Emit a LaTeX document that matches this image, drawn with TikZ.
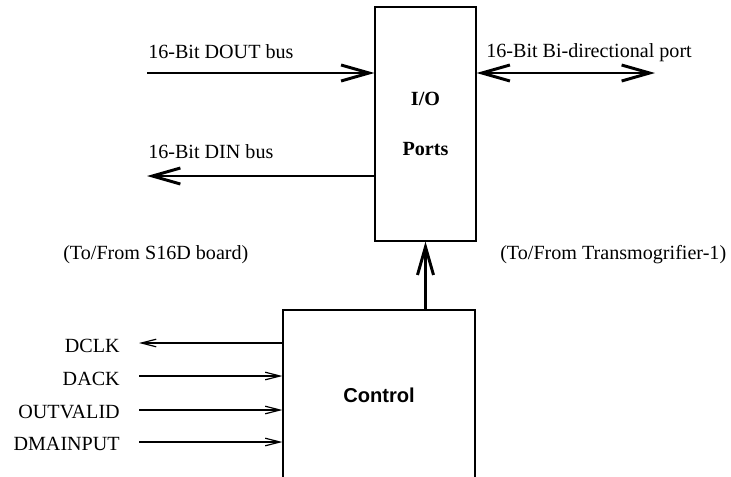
\documentclass[tikz,border=0pt]{standalone}
\usepackage{fontspec}
\setmainfont{Liberation Serif}
\newfontfamily\ctrlfont{Liberation Sans}
\usetikzlibrary{arrows.meta,positioning}

\begin{document}
\begin{tikzpicture}[
  x=0.025cm, y=-0.025cm,
  font=\fontsize{14.3}{16}\selectfont,
  block/.style={
    draw,
    line width=0.8pt,
    inner sep=0pt,
    align=center
  },
  bus/.style={
    line width=2.1pt,
    -{Straight Barb[length=0.7cm, width=0.4cm]}
  },
  bibus/.style={
    line width=2.1pt,
    {Straight Barb[length=0.7cm, width=0.4cm]}-{Straight Barb[length=0.7cm, width=0.4cm]}
  },
  sig/.style={
    line width=0.85pt,
    -{Straight Barb[length=0.37cm, width=0.19cm]}
  },
  lbl/.style={
    inner sep=0pt,
    anchor=base west
  },
  pin/.style={
    inner sep=0pt,
    anchor=base east
  }
]
\useasboundingbox (0,0) rectangle (731,476);

% Blocks
\node[block, minimum width=2.525cm, minimum height=5.85cm] (ports) at (425.5,124) {%
  \textbf{I/O}\\[19pt]
  \textbf{Ports}
};

\node[block, minimum width=4.8cm, minimum height=4.25cm, font=\fontsize{14.3}{16}\ctrlfont\bfseries] (control) at (379,395) {Control};

% Bus end points
\coordinate (dout) at (147,73);
\coordinate (din) at (147,176);
\coordinate (bidir) at (655,73);

% Buses
\draw[bus] (dout) -- (dout -| ports.west);
\draw[bus] (ports.west |- din) -- (din);
\draw[bibus] (ports.east |- bidir) -- (bidir);
\draw[bus] (control.north -| ports.south) -- (ports.south);

% Bus labels
\node[lbl] (doutlbl) at (148,58) {16-Bit DOUT bus};
\node[lbl] (dinlbl) at (148,158) {16-Bit DIN bus};
\node[lbl] (bidirlbl) at (486,57) {16-Bit Bi-directional port};
\node[lbl] (s16d) at (63,259) {(To/From S16D board)};
\node[lbl] (transmog) at (500,259) {(To/From Transmogrifier-1)};

% Control signals
\coordinate (dclk) at (139,343);
\coordinate (dack) at (139,376);
\coordinate (outvalid) at (139,410);
\coordinate (dmainput) at (139,442);

\draw[sig] (control.west |- dclk) -- (dclk);
\draw[sig] (dack) -- (dack -| control.west);
\draw[sig] (outvalid) -- (outvalid -| control.west);
\draw[sig] (dmainput) -- (dmainput -| control.west);

\node[pin] (dclklbl) at (120,352) {DCLK};
\node[pin] (dacklbl) at (120,385) {DACK};
\node[pin] (outvalidlbl) at (120,418) {OUTVALID};
\node[pin] (dmainputlbl) at (120,450) {DMAINPUT};

\end{tikzpicture}
\end{document}
